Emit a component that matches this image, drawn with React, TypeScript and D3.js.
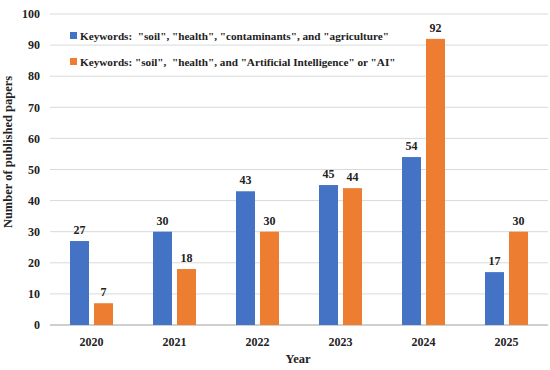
import React from 'react'
import * as d3 from 'd3'

const years = ['2020', '2021', '2022', '2023', '2024', '2025']
const agriculture = [27, 30, 43, 45, 54, 17]
const aiPapers = [7, 18, 30, 44, 92, 30]
const yTicks = [0, 10, 20, 30, 40, 50, 60, 70, 80, 90, 100]
const seriesNames = [
  'Keywords:  "soil", "health", "contaminants", and "agriculture"',
  'Keywords: "soil",  "health", and "Artificial Intelligence" or "AI"',
]
const colors = ['#4472C4', '#ED7D31']

const W = 550
const H = 370
const margin = { top: 14, right: 2, bottom: 45, left: 50 }
const font = '"Liberation Serif", "DejaVu Serif", serif'

const App = () => {
  const x = d3.scaleBand().domain(years).range([margin.left, W - margin.right])
  const y = d3.scaleLinear().domain([0, 100]).range([H - margin.bottom, margin.top])
  const barW = 19
  const gap = 5
  const series = [agriculture, aiPapers]

  return (
    <svg width={W} height={H} style={{ position: 'absolute', left: 0, top: 0, background: '#fff' }}
      fontFamily={font} fontWeight="bold">
      {yTicks.map(t => (
        <g key={t}>
          <line x1={margin.left} x2={W - margin.right} y1={y(t)} y2={y(t)}
            stroke={t === 0 ? '#bfbfbf' : '#d9d9d9'} strokeWidth={t === 0 ? 1.5 : 1} />
          <text x={margin.left - 10} y={y(t)} dy="0.35em" textAnchor="end" fontSize={12} fill="#222">{t}</text>
        </g>
      ))}
      {years.map((yr, i) => {
        const cx = (x(yr) as number) + x.bandwidth() / 2
        return (
          <g key={yr}>
            {series.map((s, k) => {
              const bx = k === 0 ? cx - gap / 2 - barW : cx + gap / 2
              return (
                <g key={k}>
                  <rect x={bx} y={y(s[i])} width={barW} height={y(0) - y(s[i])} fill={colors[k]} />
                  <text x={bx + barW / 2} y={y(s[i]) - 7} textAnchor="middle" fontSize={12} fill="#222">{s[i]}</text>
                </g>
              )
            })}
            <text x={cx} y={H - 24} textAnchor="middle" fontSize={12} fill="#222">{yr}</text>
          </g>
        )
      })}
      <text x={298} y={H - 7} textAnchor="middle" fontSize={12.5} fill="#222">Year</text>
      <text transform={`translate(12,152) rotate(-90)`} textAnchor="middle"
        fontSize={12.5} fill="#222">Number of published papers</text>
      {seriesNames.map((n, k) => (
        <g key={k}>
          <rect x={70} y={32 + k * 26} width={7} height={7} fill={colors[k]} />
          <text x={80} y={36 + k * 26} dy="0.35em" fontSize={11.2} fill="#222" xmlSpace="preserve">{n}</text>
        </g>
      ))}
    </svg>
  )
}

export default App
